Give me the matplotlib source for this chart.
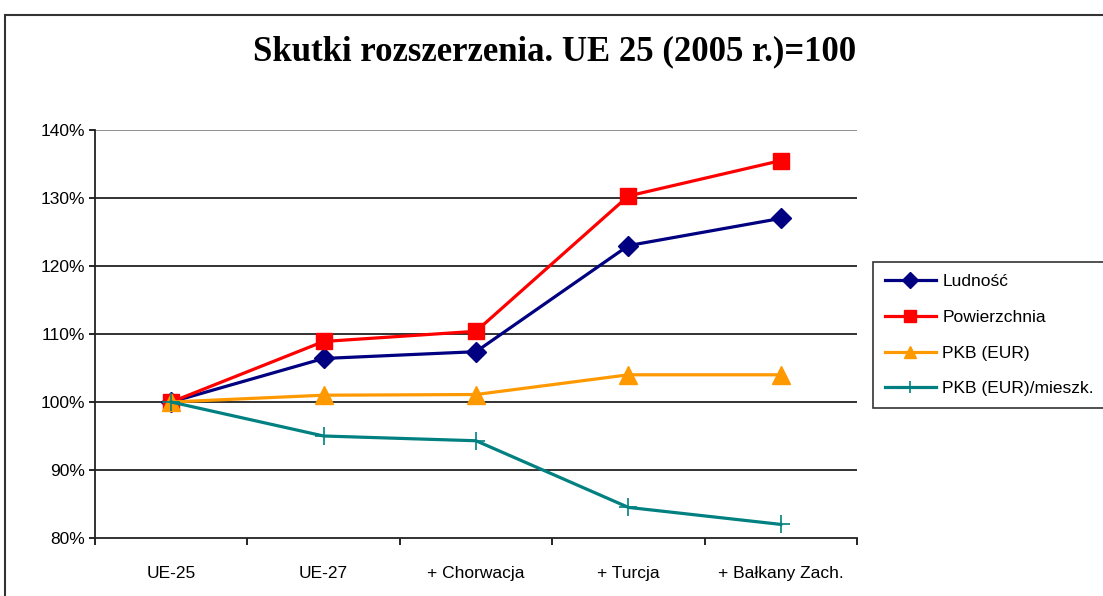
import matplotlib
matplotlib.use("Agg")
import matplotlib.pyplot as plt
from matplotlib.patches import Rectangle
from matplotlib.ticker import FixedLocator, FuncFormatter

categories = ["UE-25", "UE-27", "+ Chorwacja", "+ Turcja", "+ Bałkany Zach."]
ludnosc = [100, 106.4, 107.4, 123.0, 127.0]
powierzchnia = [100, 108.9, 110.4, 130.3, 135.5]
pkb = [100, 101.0, 101.1, 104.0, 104.0]
pkb_mieszk = [100, 95.0, 94.3, 84.5, 82.0]
series_names = ["Ludność", "Powierzchnia", "PKB (EUR)", "PKB (EUR)/mieszk."]
y_ticks = [80, 90, 100, 110, 120, 130, 140]
title = "Skutki rozszerzenia. UE 25 (2005 r.)=100"

plt.rcParams['font.family'] = ['Liberation Sans', 'DejaVu Sans']

fig = plt.figure(figsize=(11.03, 5.96), dpi=100)
fig.patches.append(Rectangle((5/1103, -0.1), 1.2, 1.1 - 15/596, transform=fig.transFigure,
                             fill=False, edgecolor='#333333', linewidth=1.5))

ax = fig.add_axes([95/1103, 1 - 538/596, (857-95)/1103, (538-130)/596])
x = list(range(len(categories)))

for yv in y_ticks[1:]:
    ax.axhline(yv, color='#888888' if yv == 140 else '#222222', lw=1.3, zorder=1)

ax.plot(x, ludnosc, color='#000080', lw=2.3, marker='D', ms=10, label=series_names[0], zorder=3)
ax.plot(x, powierzchnia, color='#FF0000', lw=2.3, marker='s', ms=11, label=series_names[1], zorder=3)
ax.plot(x, pkb, color='#FF9900', lw=2.3, marker='^', ms=13, label=series_names[2], zorder=3)
ax.plot(x, pkb_mieszk, color='#008080', lw=2.3, marker='+', ms=13, mew=1.2, label=series_names[3], zorder=3)

ax.set_xlim(-0.5, len(categories) - 0.5)
ax.set_ylim(80, 140)
ax.set_yticks(y_ticks)
ax.yaxis.set_major_formatter(FuncFormatter(lambda v, p: f"{int(v)}%"))
ax.set_xticks(x)
ax.set_xticklabels(categories)
ax.xaxis.set_minor_locator(FixedLocator([i - 0.5 for i in range(len(categories) + 1)]))
ax.tick_params(axis='x', which='major', length=0, pad=20, labelsize=12.5)
ax.tick_params(axis='x', which='minor', length=5, width=1.2, direction='out')
ax.tick_params(axis='y', length=4, width=1.2, direction='out', labelsize=12.5, pad=3)
for s in ['top', 'right']:
    ax.spines[s].set_visible(False)
for s in ['left', 'bottom']:
    ax.spines[s].set_color('#222222')
    ax.spines[s].set_linewidth(1.3)

fig.text(555/1103, 1 - 52/596, title, ha='center', va='center',
         fontfamily='Liberation Serif', fontweight='bold', fontsize=25)

leg = fig.legend(loc='upper left', bbox_to_anchor=(873/1103, 1 - 262/596),
                 fontsize=12.5, frameon=True, fancybox=False, handlelength=2.9,
                 labelspacing=1.18, borderpad=0.7, handletextpad=0.4, borderaxespad=0)
leg.get_frame().set_edgecolor('black')
leg.get_frame().set_linewidth(1.2)
for h in leg.legend_handles:
    h.set_markersize(8)

fig.savefig("out.png", dpi=100)
